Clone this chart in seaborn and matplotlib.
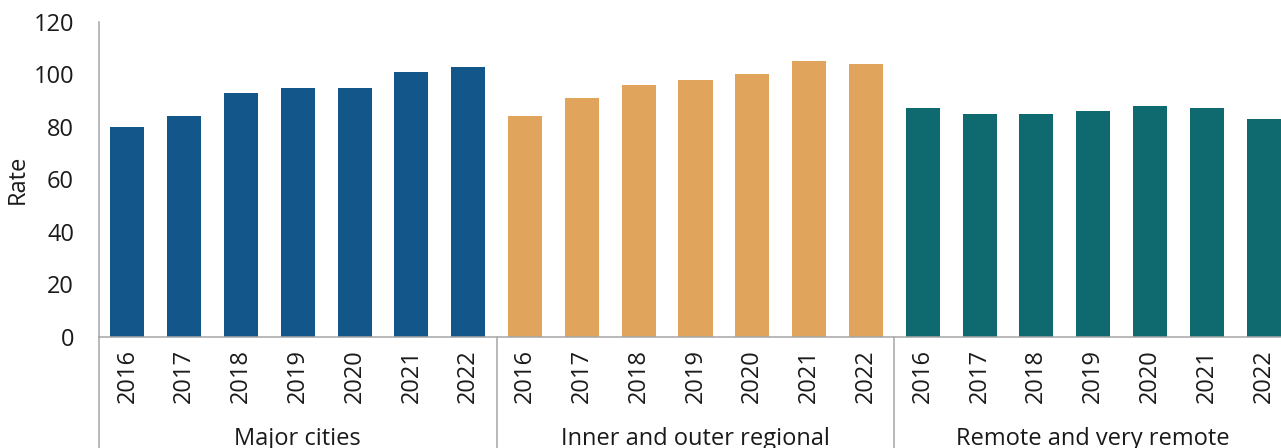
import numpy as np
import pandas as pd
import matplotlib
matplotlib.use('Agg')
import matplotlib.pyplot as plt
import matplotlib.transforms as mtransforms
import seaborn as sns

# ============================
# 数据
# ============================
groups = ['Major cities', 'Inner and outer regional', 'Remote and very remote']
years = ['2016', '2017', '2018', '2019', '2020', '2021', '2022']
major_cities = [80, 84, 93, 95, 95, 101, 103]
inner_outer = [84, 91, 96, 98, 100, 105, 104]
remote = [87, 85, 85, 86, 88, 87, 83]
colors = ['#12568a', '#e1a45d', '#0e6a6f']

rows = []
for g, vals in zip(groups, [major_cities, inner_outer, remote]):
    for y, v in zip(years, vals):
        rows.append({'group': g, 'year': y, 'slot': f'{g} {y}', 'rate': v})
df = pd.DataFrame(rows)

# ============================
# 绘图风格
# ============================
sns.set_style('white')
plt.rcParams['font.family'] = ['Open Sans', 'DejaVu Sans']
fs = 17
grey = '#a6a6a6'
txt = '#1a1a1a'

fig = plt.figure(figsize=(12.81, 4.48), dpi=100)
ax = fig.add_axes([99 / 1281, 111.5 / 448, 1193 / 1281, 314.5 / 448])

sns.barplot(data=df, x='slot', y='rate', hue='group', palette=colors,
            saturation=1, dodge=False, width=0.6, linewidth=0,
            legend=False, ax=ax)

ax.set_xlim(-0.5, len(df) - 0.5)
ax.set_ylim(0, 120)
ax.set_yticks(np.arange(0, 121, 20))
ax.set_xticks(np.arange(len(df)))
ax.set_xticklabels(df['year'], rotation=90, color=txt)
ax.tick_params(axis='x', length=0, pad=9, labelsize=fs)
ax.tick_params(axis='y', length=6, width=1.1, color=grey, pad=12,
               labelsize=fs, labelcolor=txt)
ax.set_xlabel('')
ax.set_ylabel('Rate', fontsize=fs, color=txt)
ax.yaxis.set_label_coords(-0.058, 0.5)

sns.despine(ax=ax, top=True, right=True)
for s in ['left', 'bottom']:
    ax.spines[s].set_color(grey)
    ax.spines[s].set_linewidth(1.1)

# 分组分隔线和分组标签
trans = mtransforms.blended_transform_factory(ax.transData, ax.transAxes)
n = len(years)
for i in range(len(groups) + 1):
    xpos = i * n - 0.5
    ax.plot([xpos, xpos], [0, -0.5], transform=trans, color=grey,
            lw=1.1, clip_on=False)
for i, g in enumerate(groups):
    ax.text(i * n + (n - 1) / 2, -0.345, g, transform=trans, ha='center',
            va='baseline', fontsize=fs, color=txt)

fig.savefig('out.png', dpi=100)
